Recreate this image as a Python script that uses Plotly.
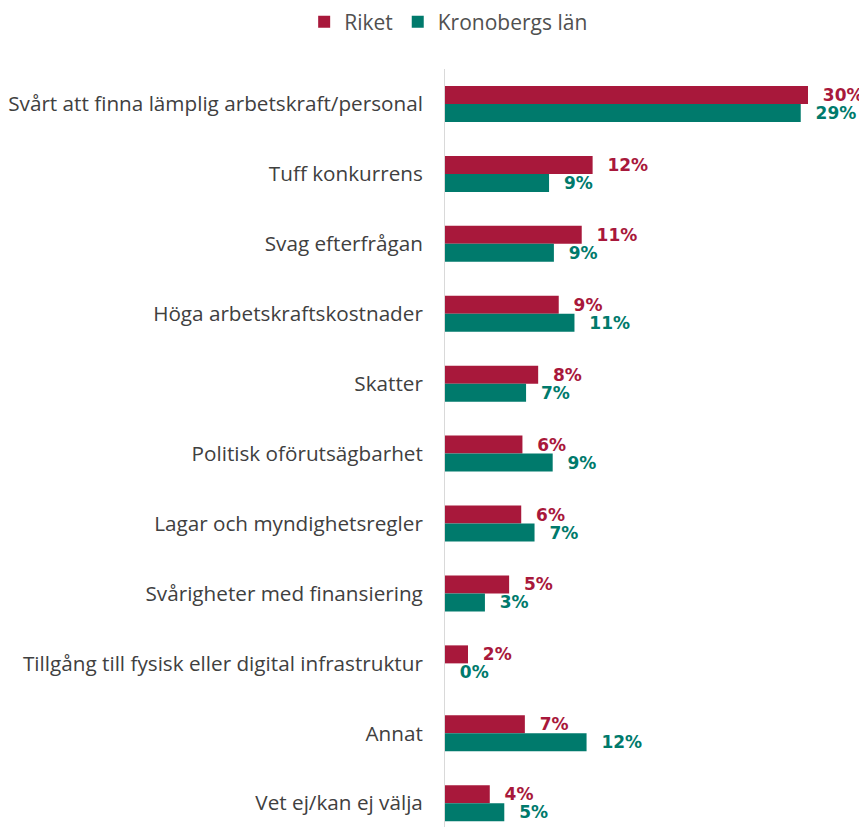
import plotly.graph_objects as go

categories = [
    "Svårt att finna lämplig arbetskraft/personal",
    "Tuff konkurrens",
    "Svag efterfrågan",
    "Höga arbetskraftskostnader",
    "Skatter",
    "Politisk oförutsägbarhet",
    "Lagar och myndighetsregler",
    "Svårigheter med finansiering",
    "Tillgång till fysisk eller digital infrastruktur",
    "Annat",
    "Vet ej/kan ej välja",
]
riket = [30.0, 12.2, 11.3, 9.4, 7.7, 6.4, 6.3, 5.3, 1.9, 6.6, 3.7]
kronoberg = [29.4, 8.6, 9.0, 10.7, 6.7, 8.9, 7.4, 3.3, 0.0, 11.7, 4.9]

series_names = ["Riket", "Kronobergs län"]
colors = ["#A8183B", "#007A6C"]

fig = go.Figure()
for name, vals, col in zip(series_names, [riket, kronoberg], colors):
    fig.add_trace(go.Bar(
        name=name,
        y=categories,
        x=vals,
        orientation="h",
        marker=dict(color=col, line=dict(width=0)),
        texttemplate="\u00a0\u00a0%{x:.0f}%",
        textposition="outside",
        constraintext="none",
        cliponaxis=False,
        textfont=dict(family="DejaVu Sans", size=17, color=col, weight="bold"),
    ))

# page body adds an 8px offset, so the figure is sized to end at the window edge
fig.update_layout(
    width=859, height=819,
    margin=dict(l=437, r=59, t=61, b=0, autoexpand=False),
    paper_bgcolor="white", plot_bgcolor="white",
    barmode="group", bargap=0.485, bargroupgap=0,
    font=dict(family="Open Sans", color="#404040", size=20),
    legend=dict(orientation="h", x=0.513, xanchor="center", xref="container",
                y=1.062, yref="paper", yanchor="middle",
                font=dict(size=21, color="#505050"), itemwidth=30,
                traceorder="normal"),
    showlegend=True,
)
fig.update_xaxes(range=[0, 30], showgrid=False, showticklabels=False, zeroline=False,
                 showline=False, fixedrange=True, automargin=False)
fig.update_yaxes(range=[10.34, -0.5], showgrid=False, showline=True, linecolor="#D9D9D9",
                 linewidth=1, ticks="", ticklabelstandoff=17, automargin=False,
                 tickfont=dict(family="Open Sans", size=20.7, color="#404040"))

fig.write_html("out.html")
